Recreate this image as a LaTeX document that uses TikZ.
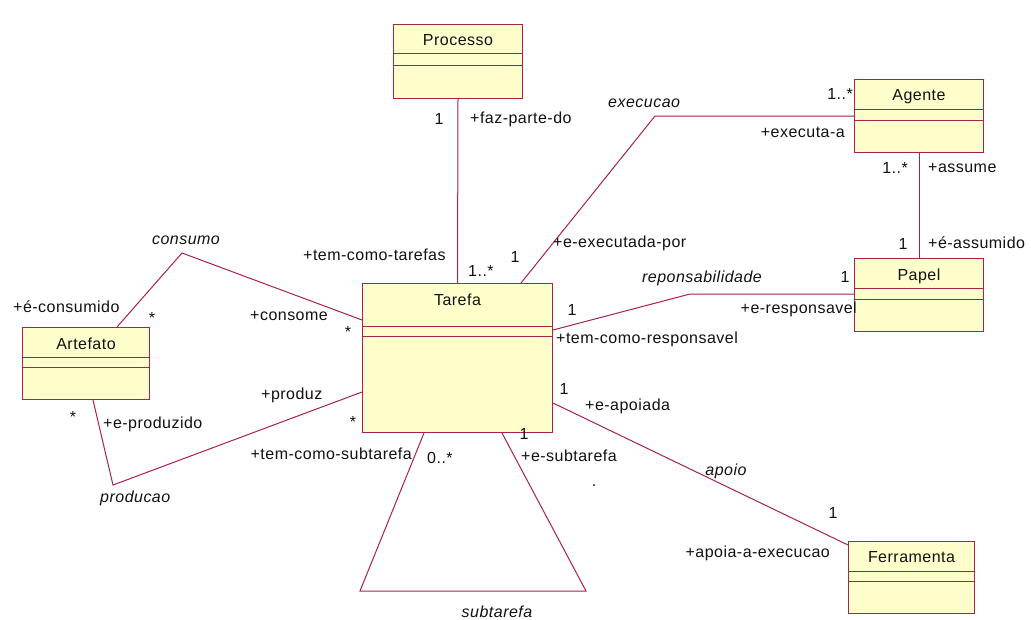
\documentclass[tikz,border=0pt]{standalone}
\usepackage{fontspec}
\setmainfont{Liberation Sans}[LetterSpace=3]
\usetikzlibrary{positioning,calc}
\usepackage{xcolor}
\definecolor{classfill}{HTML}{FFFFCC}
\definecolor{classline}{HTML}{A8224E}
\definecolor{ink}{HTML}{111111}
\tikzset{
  every node/.style={font=\fontsize{16}{19}\selectfont,text=ink},
  classbox/.style={draw=classline,line width=1pt,fill=classfill,anchor=north west,inner sep=0pt},
  classname/.style={anchor=north,inner sep=0pt,yshift=-10.5pt},
  compline/.style={draw=classline,line width=1pt},
  assoc/.style={draw=classline,line width=1pt},
  role/.style={inner sep=0pt},
  mult/.style={inner sep=0pt},
  assocname/.style={inner sep=0pt,font=\fontsize{16}{19}\selectfont\itshape},
}
% name, x, y, width, height, first line, second line, text
\newcommand{\umlclass}[8]{%
  \node[classbox,minimum width=#4pt,minimum height=#5pt] (#1) at (#2,#3) {};
  \node[classname] (#1-name) at (#1.north) {#8};
  \draw[compline] ([yshift=-#6pt]#1.north west) -- ([yshift=-#6pt]#1.north east);
  \draw[compline] ([yshift=-#7pt]#1.north west) -- ([yshift=-#7pt]#1.north east);
}

\begin{document}
\begin{tikzpicture}[x=1pt,y=-1pt]
  \useasboundingbox[fill=white] (0,0) rectangle (1031,619);

  % associations
  \coordinate (exec-bend) at (655,116);
  \coordinate (resp-bend) at (690,294);
  \coordinate (cons-bend) at (182,253);
  \coordinate (prod-bend) at (113,485);
  \coordinate (sub-left) at (360,591);
  \coordinate (sub-right) at (586,591);

  % classes
  \umlclass{processo}{393}{24}{129}{74}{29}{41}{Processo}
  \umlclass{agente}{854}{79}{129}{73}{30}{41}{Agente}
  \umlclass{papel}{854}{258}{129}{73}{30}{41}{Papel}
  \umlclass{artefato}{22}{327}{127}{72}{30}{40}{Artefato}
  \umlclass{tarefa}{362}{283}{190}{149}{43}{53}{Tarefa}
  \umlclass{ferramenta}{848}{541}{126}{72}{30}{40}{Ferramenta}

  \draw[assoc] (processo.south) -- (tarefa.north);
  \draw[assoc] (agente.south) -- (papel.north);
  \draw[assoc] ([xshift=159pt]tarefa.north west) -- (exec-bend) -- (exec-bend -| agente.west);
  \draw[assoc] ([yshift=-47pt]tarefa.north east) -- (resp-bend) -- (resp-bend -| papel.west);
  \draw[assoc] ([xshift=95pt]artefato.north west) -- (cons-bend) -- ([yshift=-37pt]tarefa.north west);
  \draw[assoc] ([xshift=71pt]artefato.south west) -- (prod-bend) -- ([yshift=-109pt]tarefa.north west);
  \draw[assoc] ([xshift=62pt]tarefa.south west) -- (sub-left) -- (sub-right) -- ([xshift=140pt]tarefa.south west);
  \draw[assoc] ([yshift=-120pt]tarefa.north east) -- ([yshift=-4pt]ferramenta.north west);

  % processo - tarefa
  \node[mult,anchor=base] (m-proc) at (439,124) {1};
  \node[role,anchor=base west] (r-fazparte) at (470,123) {+faz-parte-do};
  \node[role,anchor=base west] (r-temtarefas) at (303,260) {+tem-como-tarefas};
  \node[mult,anchor=base west] (m-tarefa-proc) at (468,276) {1..*};
  % execucao
  \node[assocname,anchor=base west] (a-exec) at (608,107) {execucao};
  \node[mult,anchor=base east] (m-agente-exec) at (853,99) {1..*};
  \node[role,anchor=base east] (r-executa) at (845,137) {+executa-a};
  \node[mult,anchor=base] (m-tarefa-exec) at (515,262) {1};
  \node[role,anchor=base west] (r-executada) at (553,247) {+e-executada-por};
  % agente - papel
  \node[mult,anchor=base east] (m-agente-papel) at (908,173) {1..*};
  \node[role,anchor=base west] (r-assume) at (928,172) {+assume};
  \node[mult,anchor=base] (m-papel-agente) at (903,249) {1};
  \node[role,anchor=base west] (r-assumido) at (928,248) {+é-assumido};
  % reponsabilidade
  \node[assocname,anchor=base] (a-resp) at (702,282) {reponsabilidade};
  \node[mult,anchor=base] (m-papel-resp) at (845,282) {1};
  \node[role,anchor=base east] (r-responsavel) at (857,313) {+e-responsavel};
  \node[mult,anchor=base] (m-tarefa-resp) at (572,315) {1};
  \node[role,anchor=base west] (r-temresp) at (556,343) {+tem-como-responsavel};
  % consumo
  \node[assocname,anchor=base] (a-consumo) at (186,244) {consumo};
  \node[role,anchor=base west] (r-consumido) at (13,312) {+é-consumido};
  \node[mult,anchor=base] (m-artefato-cons) at (152,323) {*};
  \node[role,anchor=base west] (r-consome) at (250,320) {+consome};
  \node[mult,anchor=base] (m-tarefa-cons) at (348,337) {*};
  % producao
  \node[mult,anchor=base] (m-artefato-prod) at (73,422) {*};
  \node[role,anchor=base west] (r-produzido) at (103,428) {+e-produzido};
  \node[assocname,anchor=base west] (a-prod) at (100,502) {producao};
  \node[role,anchor=base west] (r-produz) at (261,399) {+produz};
  \node[mult,anchor=base] (m-tarefa-prod) at (353,427) {*};
  % subtarefa
  \node[role,anchor=base east] (r-temsub) at (412,459) {+tem-como-subtarefa};
  \node[mult,anchor=base west] (m-sub-0) at (427,463) {0..*};
  \node[mult,anchor=base] (m-sub-1) at (524,439) {1};
  \node[role,anchor=base west] (r-esub) at (521,461) {+e-subtarefa};
  \node[assocname,anchor=base] (a-sub) at (497,617) {subtarefa};
  % apoio
  \node[mult,anchor=base] (m-tarefa-apoio) at (564,394) {1};
  \node[role,anchor=base west] (r-apoiada) at (585,410) {+e-apoiada};
  \node[assocname,anchor=base] (a-apoio) at (726,475) {apoio};
  \node[mult,anchor=base] (m-ferr) at (833,518) {1};
  \node[role,anchor=base east] (r-apoiaexec) at (830,557) {+apoia-a-execucao};
  \node[role,anchor=base] (stray) at (594,486) {.};
\end{tikzpicture}
\end{document}
